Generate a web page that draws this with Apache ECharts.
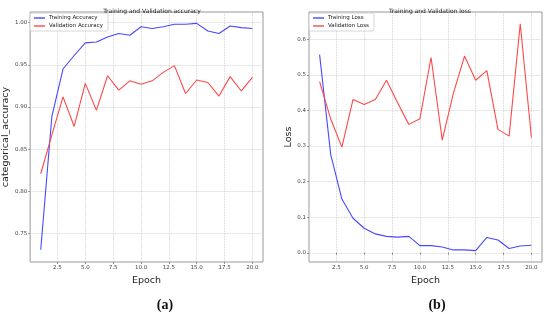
<!DOCTYPE html>
<html>
<head>
<meta charset="utf-8">
<script src="https://cdn.jsdelivr.net/npm/echarts@6/dist/echarts.min.js"></script>
<style>
  html, body { margin: 0; padding: 0; background: #fff; }
  #main { width: 550px; height: 313px; }
</style>
</head>
<body>
<div id="main"></div>
<script>
// epochs 1..20
const epochs = [1, 2, 3, 4, 5, 6, 7, 8, 9, 10, 11, 12, 13, 14, 15, 16, 17, 18, 19, 20]
// (a) accuracy
const trainAcc = [0.731, 0.889, 0.945, 0.961, 0.976, 0.977, 0.983, 0.987, 0.985, 0.995,
  0.993, 0.995, 0.998, 0.998, 0.999, 0.990, 0.987, 0.996, 0.994, 0.993]
const valAcc = [0.821, 0.867, 0.912, 0.877, 0.928, 0.896, 0.937, 0.920, 0.931, 0.927,
  0.931, 0.941, 0.949, 0.916, 0.932, 0.929, 0.913, 0.936, 0.919, 0.935]
// (b) loss
const trainLoss = [0.557, 0.276, 0.151, 0.097, 0.069, 0.053, 0.046, 0.044, 0.046, 0.020,
  0.020, 0.016, 0.008, 0.008, 0.006, 0.043, 0.036, 0.012, 0.019, 0.021]
const valLoss = [0.481, 0.376, 0.297, 0.431, 0.417, 0.431, 0.485, 0.422, 0.361, 0.377,
  0.549, 0.317, 0.448, 0.553, 0.485, 0.512, 0.347, 0.328, 0.644, 0.324]

// tick labels
const xTicks = [2.5, 5, 7.5, 10, 12.5, 15, 17.5, 20]
const accTicks = [0.75, 0.8, 0.85, 0.9, 0.95, 1.0]
const lossTicks = [0, 0.1, 0.2, 0.3, 0.4, 0.5, 0.6]

const blue = '#4848ff'
const red = '#ff4848'

function pairs(vals) {
  return epochs.map((e, i) => [e, vals[i]])
}

const chart = echarts.init(document.getElementById('main'))

function xAxisOpt(idx) {
  return {
    type: 'value',
    gridIndex: idx,
    min: 0.05,
    max: 20.95,
    name: 'Epoch',
    nameLocation: 'middle',
    nameGap: 14,
    nameTextStyle: { fontSize: 9.5, color: '#222', fontFamily: 'DejaVu Sans' },
    axisLine: { show: false },
    axisTick: { show: true, length: 2, customValues: xTicks, lineStyle: { color: '#555', width: 0.6 } },
    axisLabel: {
      customValues: xTicks,
      fontSize: 5.5,
      color: '#444',
      margin: 3,
      fontFamily: 'DejaVu Sans',
      formatter: v => v.toFixed(1)
    },
    splitLine: { show: true, lineStyle: { color: '#c8c8c8', type: 'dotted', width: 0.8 } }
  }
}

function yAxisOpt(idx, min, max, ticks, digits, name, gap) {
  return {
    type: 'value',
    gridIndex: idx,
    min: min,
    max: max,
    name: name,
    nameLocation: 'middle',
    nameGap: gap,
    nameTextStyle: { fontSize: 9.5, color: '#222', fontFamily: 'DejaVu Sans' },
    axisLine: { show: false },
    axisTick: { show: true, length: 2, customValues: ticks, lineStyle: { color: '#555', width: 0.6 } },
    axisLabel: {
      customValues: ticks,
      fontSize: 5.5,
      color: '#444',
      margin: 3,
      fontFamily: 'DejaVu Sans',
      formatter: v => v.toFixed(digits)
    },
    splitLine: { show: true, lineStyle: { color: '#c8c8c8', type: 'dotted', width: 0.8 } }
  }
}

function lineSeries(name, idx, data, color) {
  return {
    name: name,
    type: 'line',
    xAxisIndex: idx,
    yAxisIndex: idx,
    data: pairs(data),
    symbol: 'none',
    animation: false,
    lineStyle: { color: color, width: 1.1 },
    itemStyle: { color: color }
  }
}

function legendOpt(left, names) {
  return {
    left: left,
    top: 13,
    orient: 'vertical',
    data: names.map(n => ({ name: n, icon: 'rect' })),
    itemWidth: 11,
    itemHeight: 1.4,
    itemGap: 2,
    padding: [2, 5, 2, 4],
    borderColor: '#cccccc',
    borderWidth: 0.8,
    borderRadius: 2,
    backgroundColor: 'rgba(255,255,255,0.8)',
    textStyle: { fontSize: 5.5, color: '#222', fontFamily: 'DejaVu Sans', padding: [0, 0, 0, -1] }
  }
}

const option = {
  backgroundColor: '#fff',
  animation: false,
  title: [
    {
      text: 'Training and Validation accuracy',
      left: 147, top: 3, textAlign: 'center',
      textStyle: { fontSize: 6, fontWeight: 'normal', color: '#222', fontFamily: 'DejaVu Sans' }
    },
    {
      text: 'Training and Validation loss',
      left: 425, top: 3, textAlign: 'center',
      textStyle: { fontSize: 6, fontWeight: 'normal', color: '#222', fontFamily: 'DejaVu Sans' }
    },
    {
      text: '(a)',
      left: 160, top: 293, textAlign: 'center',
      textStyle: { fontSize: 14, fontWeight: 'bold', color: '#111', fontFamily: 'Liberation Serif' }
    },
    {
      text: '(b)',
      left: 432, top: 293, textAlign: 'center',
      textStyle: { fontSize: 14, fontWeight: 'bold', color: '#111', fontFamily: 'Liberation Serif' }
    }
  ],
  legend: [
    legendOpt(30, ['Training Accuracy', 'Validation Accuracy']),
    legendOpt(309, ['Training Loss', 'Validation Loss'])
  ],
  grid: [
    { left: 30, top: 12, width: 233, height: 250, show: true, borderColor: '#999', borderWidth: 1, containLabel: false },
    { left: 309, top: 12, width: 233, height: 250, show: true, borderColor: '#999', borderWidth: 1, containLabel: false }
  ],
  xAxis: [xAxisOpt(0), xAxisOpt(1)],
  yAxis: [
    yAxisOpt(0, 0.7165, 1.0125, accTicks, 2, 'categorical_accuracy', 18),
    yAxisOpt(1, -0.026, 0.677, lossTicks, 1, 'Loss', 10)
  ],
  series: [
    lineSeries('Training Accuracy', 0, trainAcc, blue),
    lineSeries('Validation Accuracy', 0, valAcc, red),
    lineSeries('Training Loss', 1, trainLoss, blue),
    lineSeries('Validation Loss', 1, valLoss, red)
  ]
}

chart.setOption(option)
</script>
</body>
</html>
